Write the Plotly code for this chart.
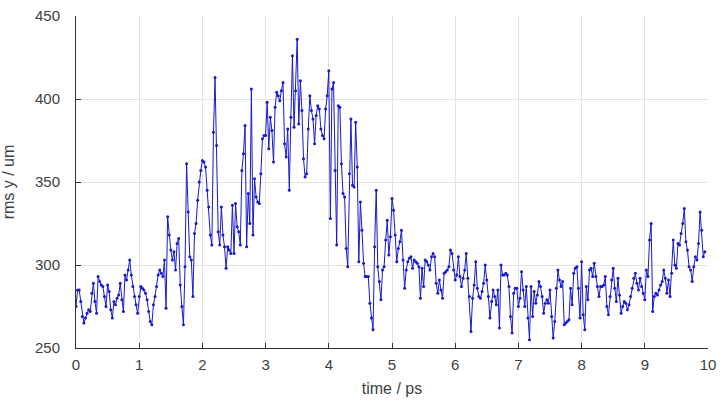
import numpy as np
import plotly.graph_objects as go

dt = 0.025  # ps per sample

seg0 = [275, 285, 285, 278, 269, 265, 268, 271, 273, 272,
        283, 289, 278, 271, 293, 290, 288, 287, 281, 275,
        288, 284, 273, 268, 278, 276, 280, 282, 289, 279,
        272, 294, 291, 297, 303, 294, 287, 281, 276, 271]
seg1 = [281, 287, 286, 285, 283, 279, 272, 266, 264, 276,
        281, 287, 294, 297, 295, 293, 303, 274, 329, 318,
        309, 303, 308, 297, 313, 316, 288, 275, 264, 299,
        361, 332, 305, 303, 281, 319, 325, 339, 350, 357]
seg2 = [363, 362, 359, 345, 335, 318, 312, 380, 413, 372,
        320, 312, 335, 318, 311, 298, 311, 309, 307,
        336, 307, 337, 323, 320, 312, 357, 367, 384, 311,
        343, 325, 406, 318, 352, 341, 338, 337, 355, 376, 378]
seg3 = [378, 398, 370, 389, 381, 362, 395, 404, 402, 399,
        405, 410, 373, 365, 382, 345, 389, 426, 383, 405,
        436, 385, 411, 393, 364, 353, 355, 382, 402, 393,
        388, 373, 390, 396, 394, 382, 378, 376, 394, 402]
seg4 = [417, 328, 406, 410, 357, 312, 396, 395, 361, 343,
        341, 310, 299, 355, 388, 348, 347, 386, 359, 302,
        338, 321, 301, 293, 293, 293, 277, 268, 261, 311,
        345, 299, 290, 279, 297, 299, 315, 327, 306, 317]
seg5 = [340, 333, 318, 302, 310, 314, 321, 303, 286, 297,
        302, 304, 305, 298, 303, 302, 301, 299, 280, 298,
        287, 303, 302, 300, 297, 305, 307, 305, 289, 283,
        291, 285, 280, 295, 296, 297, 299, 309, 307, 297]
seg6 = [291, 294, 305, 293, 287, 292, 297, 307, 292, 281,
        260, 280, 288, 302, 286, 281, 280, 284, 289, 300,
        291, 281, 268, 278, 285, 281, 276, 285, 262, 300,
        294, 294, 295, 294, 287, 269, 259, 283, 286, 286]
seg7 = [275, 280, 296, 285, 275, 287, 268, 255, 287, 269,
        284, 277, 282, 290, 287, 281, 271, 277, 279,
        277, 285, 269, 256, 266, 286, 297, 291, 287, 290,
        264, 265, 266, 267, 286, 276, 295, 298, 299, 286, 268]
seg8 = [302, 270, 261, 287, 279, 297, 298, 293, 301, 293,
        287, 281, 287, 287, 288, 293, 275, 270, 281, 291,
        298, 286, 278, 292, 282, 271, 275, 278, 277, 273,
        276, 281, 286, 292, 295, 289, 285, 292, 287, 283]
seg9 = [279, 297, 293, 315, 325, 272, 281, 283, 282, 285,
        288, 290, 297, 292, 283, 291, 281, 295, 315, 300,
        298, 313, 312, 319, 325, 334, 314, 309, 299, 297,
        290, 299, 305, 303, 313, 332, 321, 305, 308]

rms_y = seg0 + seg1 + seg2 + seg3 + seg4 + seg5 + seg6 + seg7 + seg8 + seg9
time_ps = [round(i * dt, 4) for i in range(len(rms_y))]

x_ticks = list(range(0, 11))
y_ticks = [250, 300, 350, 400, 450]

col = "rgb(25,25,205)"
fig = go.Figure()
fig.add_trace(go.Scatter(
    x=time_ps, y=rms_y, mode="lines+markers",
    line=dict(color=col, width=1),
    marker=dict(color=col, size=3),
    showlegend=False,
))

font = "Liberation Sans, Arial, sans-serif"
axcol = "#404040"
fig.update_layout(
    width=727, height=402,
    margin=dict(l=76, r=19, t=16, b=54),
    paper_bgcolor="white", plot_bgcolor="white",
    font=dict(family=font, size=15, color=axcol),
    xaxis=dict(
        range=[0, 10], tickvals=x_ticks, ticktext=[str(v) for v in x_ticks],
        automargin=False,
        showgrid=True, gridcolor="#e3e3e3", gridwidth=1,
        showline=True, linecolor="#333333", linewidth=1, mirror=False,
        ticks="inside", ticklen=5, tickcolor="#333333",
        zeroline=False, ticklabelstandoff=3,
        title=dict(text="time / ps", standoff=10, font=dict(size=16)),
        tickfont=dict(size=15),
    ),
    yaxis=dict(
        range=[250, 450], tickvals=y_ticks, ticktext=[str(v) for v in y_ticks],
        automargin=False,
        showgrid=True, gridcolor="#e3e3e3", gridwidth=1,
        showline=True, linecolor="#333333", linewidth=1, mirror=False,
        ticks="inside", ticklen=5, tickcolor="#333333",
        zeroline=False, ticklabelstandoff=12,
        title=dict(text="rms y / um", standoff=16, font=dict(size=16)),
        tickfont=dict(size=15),
    ),
)

fig.write_html("out.html", config={"displayModeBar": False},
               post_script="document.body.style.margin='0';")
